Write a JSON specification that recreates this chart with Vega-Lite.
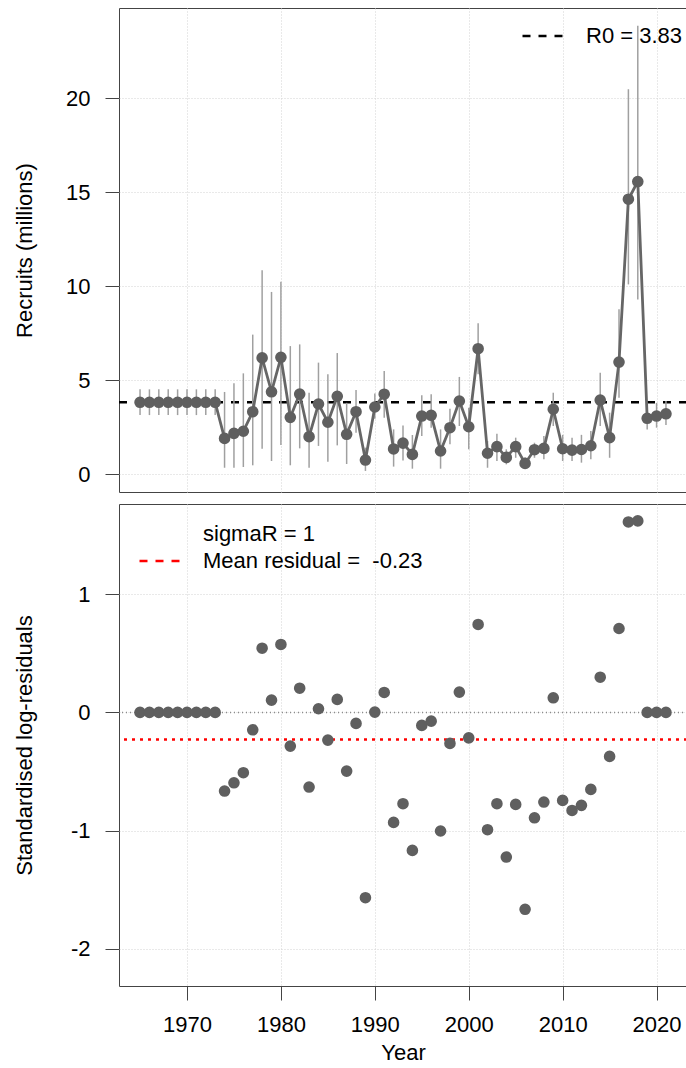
{
  "$schema": "https://vega.github.io/schema/vega-lite/v6.json",
  "padding": {"left": 12, "top": 7, "right": 0, "bottom": 0},
  "spacing": 10,
  "config": {
    "font": "Liberation Sans",
    "view": {"stroke": "#444444", "strokeWidth": 1},
    "axis": {
      "labelFontSize": 22, "titleFontSize": 22, "titleFontWeight": "normal",
      "labelColor": "#000000", "titleColor": "#000000",
      "tickColor": "#444444", "tickSize": 14, "domain": false,
      "gridColor": "#d3d3d3", "gridDash": [1, 2], "gridWidth": 1
    },
    "legend": {"labelFontSize": 22, "labelColor": "#000000", "labelLimit": 400}
  },
  "datasets": {
    "rec": [
      {"Year": 1965, "R": 3.83, "lo": 3.15, "hi": 4.52, "resid": 0},
      {"Year": 1966, "R": 3.83, "lo": 3.15, "hi": 4.52, "resid": 0},
      {"Year": 1967, "R": 3.83, "lo": 3.15, "hi": 4.52, "resid": 0},
      {"Year": 1968, "R": 3.83, "lo": 3.15, "hi": 4.52, "resid": 0},
      {"Year": 1969, "R": 3.83, "lo": 3.15, "hi": 4.52, "resid": 0},
      {"Year": 1970, "R": 3.83, "lo": 3.15, "hi": 4.52, "resid": 0},
      {"Year": 1971, "R": 3.83, "lo": 3.15, "hi": 4.52, "resid": 0},
      {"Year": 1972, "R": 3.83, "lo": 3.15, "hi": 4.52, "resid": 0},
      {"Year": 1973, "R": 3.83, "lo": 3.15, "hi": 4.52, "resid": 0},
      {"Year": 1974, "R": 1.91, "lo": 0.35, "hi": 4.38, "resid": -0.665},
      {"Year": 1975, "R": 2.18, "lo": 0.35, "hi": 4.84, "resid": -0.595},
      {"Year": 1976, "R": 2.29, "lo": 0.39, "hi": 5.37, "resid": -0.51},
      {"Year": 1977, "R": 3.33, "lo": 0.48, "hi": 7.43, "resid": -0.147},
      {"Year": 1978, "R": 6.19, "lo": 1.36, "hi": 10.85, "resid": 0.543},
      {"Year": 1979, "R": 4.39, "lo": 0.71, "hi": 9.7, "resid": 0.104},
      {"Year": 1980, "R": 6.22, "lo": 1.56, "hi": 10.24, "resid": 0.575},
      {"Year": 1981, "R": 3.03, "lo": 0.48, "hi": 6.82, "resid": -0.285},
      {"Year": 1982, "R": 4.27, "lo": 1.38, "hi": 6.91, "resid": 0.205},
      {"Year": 1983, "R": 2.0, "lo": 0.35, "hi": 4.34, "resid": -0.631},
      {"Year": 1984, "R": 3.74, "lo": 1.51, "hi": 5.94, "resid": 0.031},
      {"Year": 1985, "R": 2.77, "lo": 0.67, "hi": 5.32, "resid": -0.234},
      {"Year": 1986, "R": 4.15, "lo": 1.54, "hi": 6.45, "resid": 0.11},
      {"Year": 1987, "R": 2.13, "lo": 0.55, "hi": 3.8, "resid": -0.496},
      {"Year": 1988, "R": 3.33, "lo": 2.21, "hi": 4.48, "resid": -0.093},
      {"Year": 1989, "R": 0.76, "lo": 0.18, "hi": 1.42, "resid": -1.567},
      {"Year": 1990, "R": 3.58, "lo": 2.95, "hi": 4.3, "resid": 0.003},
      {"Year": 1991, "R": 4.26, "lo": 3.01, "hi": 5.49, "resid": 0.169},
      {"Year": 1992, "R": 1.35, "lo": 0.41, "hi": 2.39, "resid": -0.93},
      {"Year": 1993, "R": 1.66, "lo": 0.74, "hi": 2.6, "resid": -0.772},
      {"Year": 1994, "R": 1.06, "lo": 0.3, "hi": 2.09, "resid": -1.167},
      {"Year": 1995, "R": 3.1, "lo": 2.04, "hi": 4.2, "resid": -0.11},
      {"Year": 1996, "R": 3.14, "lo": 2.48, "hi": 4.26, "resid": -0.074},
      {"Year": 1997, "R": 1.24, "lo": 0.3, "hi": 2.39, "resid": -1.003},
      {"Year": 1998, "R": 2.48, "lo": 1.6, "hi": 3.49, "resid": -0.262},
      {"Year": 1999, "R": 3.9, "lo": 2.57, "hi": 5.18, "resid": 0.172},
      {"Year": 2000, "R": 2.53, "lo": 1.33, "hi": 3.54, "resid": -0.215},
      {"Year": 2001, "R": 6.68, "lo": 5.32, "hi": 8.03, "resid": 0.744},
      {"Year": 2002, "R": 1.12, "lo": 0.35, "hi": 1.77, "resid": -0.992},
      {"Year": 2003, "R": 1.47, "lo": 0.71, "hi": 2.16, "resid": -0.772},
      {"Year": 2004, "R": 0.9, "lo": 0.53, "hi": 1.33, "resid": -1.223},
      {"Year": 2005, "R": 1.47, "lo": 0.88, "hi": 1.95, "resid": -0.778},
      {"Year": 2006, "R": 0.58, "lo": 0.3, "hi": 0.9, "resid": -1.665},
      {"Year": 2007, "R": 1.31, "lo": 0.88, "hi": 1.68, "resid": -0.891},
      {"Year": 2008, "R": 1.38, "lo": 0.8, "hi": 2.04, "resid": -0.758},
      {"Year": 2009, "R": 3.46, "lo": 2.57, "hi": 4.34, "resid": 0.124},
      {"Year": 2010, "R": 1.36, "lo": 0.71, "hi": 2.1, "resid": -0.744},
      {"Year": 2011, "R": 1.29, "lo": 0.71, "hi": 1.95, "resid": -0.829},
      {"Year": 2012, "R": 1.32, "lo": 0.62, "hi": 2.1, "resid": -0.786},
      {"Year": 2013, "R": 1.52, "lo": 0.8, "hi": 2.3, "resid": -0.651},
      {"Year": 2014, "R": 3.95, "lo": 2.57, "hi": 5.4, "resid": 0.298},
      {"Year": 2015, "R": 1.95, "lo": 0.88, "hi": 3.28, "resid": -0.372},
      {"Year": 2016, "R": 5.97, "lo": 4.07, "hi": 8.78, "resid": 0.71},
      {"Year": 2017, "R": 14.63, "lo": 10.1, "hi": 20.48, "resid": 1.611},
      {"Year": 2018, "R": 15.57, "lo": 9.3, "hi": 23.85, "resid": 1.62},
      {"Year": 2019, "R": 2.98, "lo": 2.39, "hi": 3.72, "resid": 0},
      {"Year": 2020, "R": 3.1, "lo": 2.48, "hi": 3.8, "resid": 0},
      {"Year": 2021, "R": 3.22, "lo": 2.62, "hi": 3.9, "resid": 0}
    ]
  },
  "resolve": {
    "scale": {"x": "independent", "y": "independent", "color": "independent"},
    "legend": {"color": "independent"}
  },
  "vconcat": [
    {
      "width": 568,
      "height": 484,
      "encoding": {
        "x": {
          "field": "Year", "type": "quantitative",
          "scale": {"domain": [1962.76, 2023.24], "nice": false, "zero": false},
          "axis": {"values": [1970, 1980, 1990, 2000, 2010, 2020], "labels": false, "ticks": false, "title": null, "grid": true}
        }
      },
      "layer": [
        {
          "data": {"values": [{"label": "R0 = 3.83", "R0": 3.83}]},
          "mark": {"type": "rule", "strokeDash": [8, 8], "strokeWidth": 2.5},
          "encoding": {
            "x": null,
            "y": {
              "field": "R0", "type": "quantitative",
              "scale": {"domain": [-0.94, 24.8], "nice": false, "zero": false},
              "axis": {
                "values": [0, 5, 10, 15, 20], "title": "Recruits (millions)", "labelPadding": 15,
                "titleX": -95, "titleY": 242, "titleBaseline": "middle", "titleAlign": "center", "titleAngle": -90, "grid": true
              }
            },
            "color": {
              "field": "label", "type": "nominal",
              "scale": {"domain": ["R0 = 3.83"], "range": ["#000000"]},
              "legend": {
                "title": null, "orient": "none", "legendX": 402, "legendY": 17, "padding": 0,
                "symbolType": "stroke", "symbolSize": 1849, "symbolStrokeWidth": 2.5,
                "labelOffset": 19, "clipHeight": 22,
                "encode": {"symbols": {"update": {"strokeDash": {"value": [8, 8]}, "stroke": {"value": "#000000"}}}}
              }
            }
          }
        },
        {
          "data": {"name": "rec"},
          "mark": {"type": "rule", "color": "#a0a0a0", "strokeWidth": 1.5},
          "encoding": {
            "y": {"field": "lo", "type": "quantitative"},
            "y2": {"field": "hi"}
          }
        },
        {
          "data": {"name": "rec"},
          "mark": {"type": "line", "color": "#666666", "strokeWidth": 2.8},
          "encoding": {"y": {"field": "R", "type": "quantitative"}}
        },
        {
          "data": {"name": "rec"},
          "mark": {"type": "point", "filled": true, "color": "#5f5f5f", "opacity": 1, "size": 135},
          "encoding": {"y": {"field": "R", "type": "quantitative"}}
        }
      ]
    },
    {
      "width": 568,
      "height": 482,
      "encoding": {
        "x": {
          "field": "Year", "type": "quantitative",
          "scale": {"domain": [1962.76, 2023.24], "nice": false, "zero": false},
          "axis": {"values": [1970, 1980, 1990, 2000, 2010, 2020], "format": "d", "title": "Year", "labelPadding": 14, "titlePadding": 7, "grid": true, "labelFlush": false}
        }
      },
      "layer": [
        {
          "data": {"values": [{"zero": 0}]},
          "mark": {"type": "rule", "color": "#8c8c8c", "strokeDash": [1, 3], "strokeWidth": 1.5},
          "encoding": {
            "x": null,
            "y": {
              "field": "zero", "type": "quantitative",
              "scale": {"domain": [-2.314, 1.763], "nice": false, "zero": false},
              "axis": {
                "values": [-2, -1, 0, 1], "labelExpr": "'' + datum.value", "title": "Standardised log-residuals", "labelPadding": 15,
                "titleX": -95, "titleY": 241, "titleBaseline": "middle", "titleAlign": "center", "titleAngle": -90, "grid": true
              }
            }
          }
        },
        {
          "data": {"values": [{"label": "Mean residual = \u00a0-0.23", "m": -0.23}]},
          "mark": {"type": "rule", "strokeDash": [3, 5], "strokeWidth": 2.5},
          "encoding": {
            "x": null,
            "y": {"field": "m", "type": "quantitative"},
            "color": {
              "field": "label", "type": "nominal",
              "scale": {"domain": ["sigmaR = 1", "Mean residual = \u00a0-0.23"], "range": ["transparent", "#ff0000"]},
              "legend": {
                "title": null, "orient": "top-left", "offset": 19, "padding": 0,
                "symbolType": "stroke", "symbolSize": 1849, "symbolStrokeWidth": 2.5,
                "labelOffset": 19, "clipHeight": 22, "rowPadding": 5,
                "encode": {"symbols": {"update": {"strokeDash": {"value": [8, 8]}}}}
              }
            }
          }
        },
        {
          "data": {"name": "rec"},
          "mark": {"type": "point", "filled": true, "color": "#5f5f5f", "opacity": 1, "size": 135},
          "encoding": {"y": {"field": "resid", "type": "quantitative"}}
        }
      ]
    }
  ]
}
